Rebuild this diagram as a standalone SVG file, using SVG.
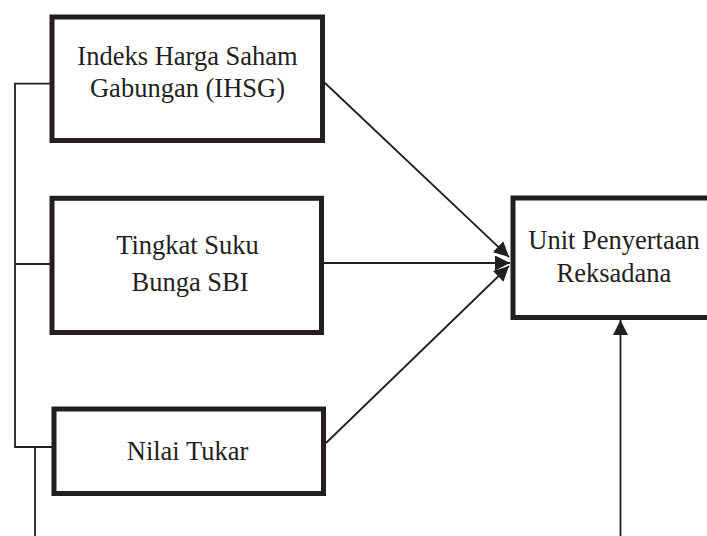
<svg xmlns="http://www.w3.org/2000/svg" width="707" height="536" viewBox="0 0 707 536">
<defs>
<style>
.box{fill:#fff;stroke:#231f20;stroke-width:5}
.ln{fill:none;stroke:#231f20;stroke-width:1.8}
.t{font-family:"Liberation Serif","Times New Roman",serif;font-size:26.5px;fill:#231f20;text-anchor:middle}
</style>
<marker id="ah" markerUnits="userSpaceOnUse" markerWidth="16" markerHeight="16" viewBox="0 0 16 16" refX="15" refY="7.5" orient="auto">
<path d="M0,0 L15,7.5 L0,15 Z" fill="#231f20"/>
</marker>
</defs>
<rect width="707" height="536" fill="#fff"/>
<g id="connectors">
<polyline class="ln" points="50,83.7 15,83.7 15,447 52,447"/>
<line class="ln" x1="15" y1="264" x2="50" y2="264"/>
<line class="ln" x1="35" y1="447" x2="35" y2="536"/>
<line class="ln" x1="325" y1="83" x2="509" y2="257" marker-end="url(#ah)"/>
<line class="ln" x1="324" y1="263" x2="510" y2="263" marker-end="url(#ah)"/>
<line class="ln" x1="326" y1="443" x2="509" y2="266" marker-end="url(#ah)"/>
<line class="ln" x1="620.5" y1="536" x2="620.5" y2="320" marker-end="url(#ah)"/>
</g>
<g id="ihsg">
<rect class="box" x="52" y="17" width="270.5" height="123.5"/>
<text class="t" x="187.5" y="65">Indeks Harga Saham</text>
<text class="t" x="187.5" y="97">Gabungan (IHSG)</text>
</g>
<g id="sbi">
<rect class="box" x="52" y="198.3" width="269.5" height="134.2"/>
<text class="t" x="187.5" y="254">Tingkat Suku</text>
<text class="t" x="190" y="290.5">Bunga SBI</text>
</g>
<g id="nilai">
<rect class="box" x="54" y="409" width="269.5" height="84.5"/>
<text class="t" x="187.5" y="460">Nilai Tukar</text>
</g>
<g id="unit">
<rect class="box" x="513" y="198" width="210" height="119.5"/>
<text class="t" x="614" y="249">Unit Penyertaan</text>
<text class="t" x="614" y="281.5">Reksadana</text>
</g>
</svg>
